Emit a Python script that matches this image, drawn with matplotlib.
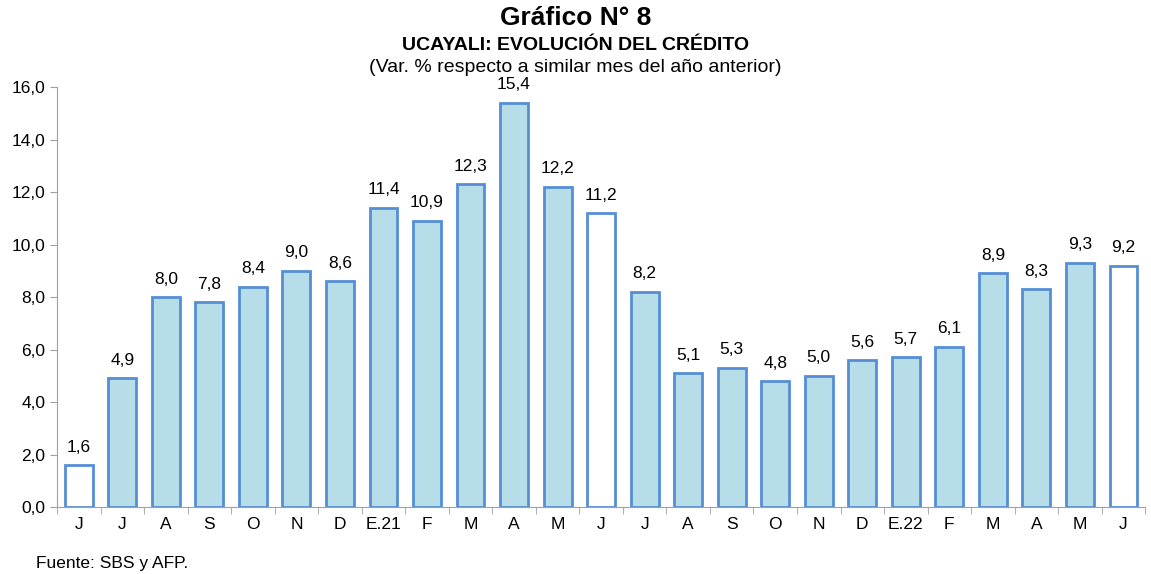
import matplotlib.pyplot as plt
import numpy as np

plt.rcParams['font.family'] = ['Liberation Sans', 'DejaVu Sans']

# datos del grafico
meses = ['J', 'J', 'A', 'S', 'O', 'N', 'D', 'E.21', 'F', 'M', 'A', 'M', 'J',
         'J', 'A', 'S', 'O', 'N', 'D', 'E.22', 'F', 'M', 'A', 'M', 'J']
var_credito = [1.6, 4.9, 8.0, 7.8, 8.4, 9.0, 8.6, 11.4, 10.9, 12.3, 15.4, 12.2, 11.2,
               8.2, 5.1, 5.3, 4.8, 5.0, 5.6, 5.7, 6.1, 8.9, 8.3, 9.3, 9.2]
# meses de junio resaltados en blanco
resaltados = [0, 12, 24]

fig = plt.figure(figsize=(11.51, 5.74), dpi=100)
ax = fig.add_axes([0.0495, 0.1167, 0.9455, 0.7317])

x = np.arange(len(meses))
colores = ['white' if i in resaltados else '#B7DEE8' for i in x]
ax.bar(x, var_credito, width=0.64, color=colores, edgecolor='#558ED5', linewidth=2, zorder=2)

for xi, v in zip(x, var_credito):
    ax.text(xi, v + 0.4, f'{v:.1f}'.replace('.', ','), ha='center', va='bottom', fontsize=12.5)

ax.set_xlim(-0.5, len(meses) - 0.5)
ax.set_ylim(0, 16)
ax.set_yticks(np.arange(0, 16.1, 2))
ax.set_yticklabels([f'{t:.1f}'.replace('.', ',') for t in np.arange(0, 16.1, 2)], fontsize=12.5)

ax.set_xticks(x)
ax.set_xticklabels(meses, fontsize=12.5)
ax.tick_params(axis='x', which='major', length=0, pad=7)
ax.set_xticks(np.arange(-0.5, len(meses), 1), minor=True)
ax.tick_params(axis='x', which='minor', length=5, color='#A0A0A0')
ax.tick_params(axis='y', length=5, color='#A0A0A0')

for s in ['top', 'right']:
    ax.spines[s].set_visible(False)
ax.spines['left'].set_color('#A0A0A0')
ax.spines['bottom'].set_color('#A0A0A0')

fig.text(0.5, 0.968, 'Gráfico N° 8', ha='center', va='center', fontsize=19, fontweight='bold')
fig.text(0.5, 0.921, 'UCAYALI: EVOLUCIÓN DEL CRÉDITO', ha='center', va='center', fontsize=14, fontweight='bold')
fig.text(0.5, 0.882, '(Var. % respecto a similar mes del año anterior)', ha='center', va='center', fontsize=14)
fig.text(0.031, 0.019, 'Fuente: SBS y AFP.', ha='left', va='center', fontsize=12.5)

fig.savefig('out.png', dpi=100)
